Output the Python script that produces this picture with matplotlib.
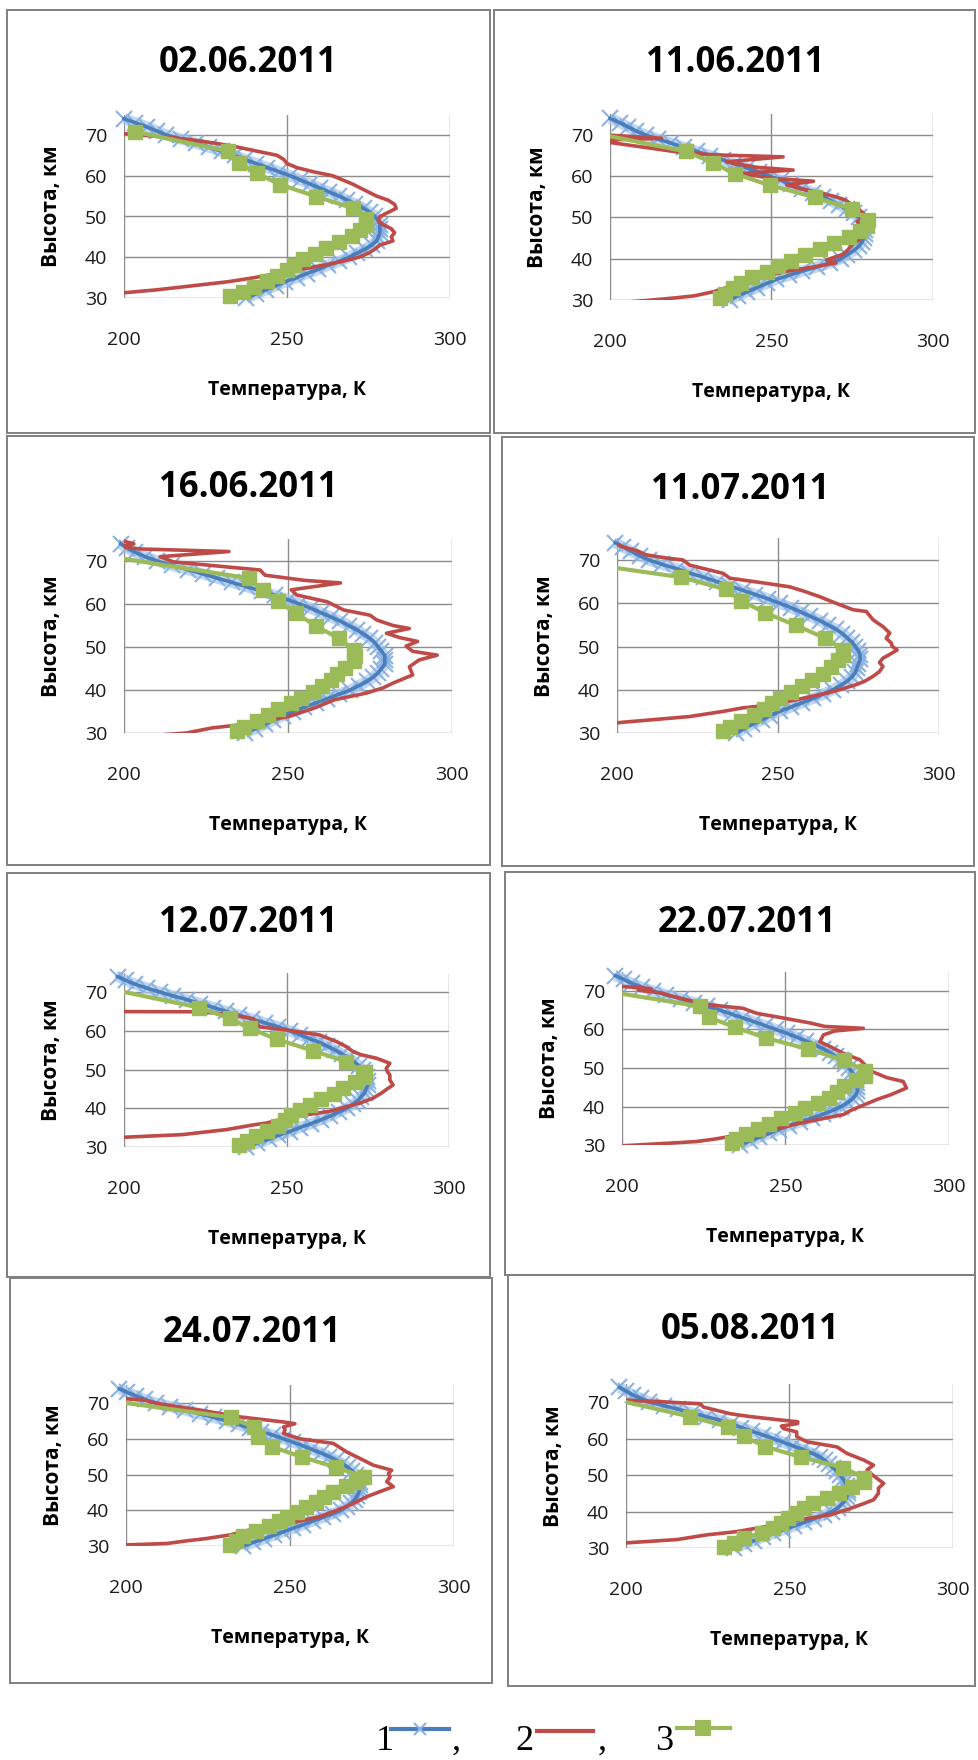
import numpy as np
import matplotlib
matplotlib.use("Agg")
import matplotlib.pyplot as plt
from matplotlib.patches import Rectangle
from matplotlib.lines import Line2D

plt.rcParams["font.family"] = ["Open Sans", "DejaVu Sans"]

W, H = 979, 1760

dates = ["02.06.2011", "11.06.2011", "16.06.2011", "11.07.2011",
         "12.07.2011", "22.07.2011", "24.07.2011", "05.08.2011"]

# series 1: model profile, every km
h_model = [30, 31, 32, 33, 34, 35, 36, 37, 38, 39, 40, 41, 42, 43, 44,
           45, 46, 47, 48, 49, 50, 51, 52, 53, 54, 55, 56, 57, 58, 59,
           60, 61, 62, 63, 64, 65, 66, 67, 68, 69, 70, 71, 72, 73, 74]
t_model_0206 = [237.5, 240.5, 243.5, 246.5, 249.5, 253, 256, 259.5, 262.5, 266,
                269, 271.5, 274, 276, 277.5, 278, 278.5, 278.5, 278.5, 278,
                277, 275.5, 273.5, 271, 268.5, 266, 263, 260, 257, 254,
                251, 247.5, 244, 240.5, 237, 234, 230, 226, 222, 217.5,
                213, 210, 207, 203.5, 200]
t_model_1106 = [237, 239.5, 242.5, 245.5, 248.5, 251.5, 255.5, 259.5, 264, 268,
                271.5, 273.5, 275.5, 277, 278, 278.5, 279, 279, 278.5, 278,
                277, 275.5, 273.5, 271, 268.5, 266, 263, 259.5, 256, 253,
                249.5, 246, 242.5, 238.5, 235, 231, 227, 223, 219, 215,
                211, 208, 205.5, 203, 200]
t_model_1606 = [237, 240, 243, 245.5, 248.5, 251.5, 255, 258.5, 262, 265.5,
                269, 271.5, 274, 276, 277.5, 278.5, 279.5, 279.5, 279.5, 278.5,
                277.5, 276.5, 275, 273, 271, 268.5, 266, 263, 260, 257,
                253.5, 250, 246, 242, 237.5, 233, 228.5, 224, 219.5, 214.5,
                210, 206.5, 203.5, 201, 199]
t_model_1107 = [237, 239.5, 242, 245, 247.5, 250.5, 254, 257.5, 261, 264,
                267, 269.5, 271.5, 273, 274, 274.5, 275, 275.5, 275.5, 275,
                274, 273, 271.5, 270, 268, 265.5, 263, 260, 257, 254,
                250.5, 247, 243, 239, 235, 231, 227, 222.5, 218.5, 214,
                210, 207, 204.5, 202, 199.5]
t_model_1207 = [237.5, 241, 244.5, 247.5, 251, 254, 257.5, 260.5, 263.5, 266,
                268.5, 270.5, 272, 273, 274, 274.5, 275, 275, 274.8, 274.3,
                273.5, 272.3, 270.8, 269, 267, 265, 262.5, 260, 257, 254,
                251, 247.5, 243.5, 239.5, 235.5, 231.5, 227.5, 223.5, 219.5, 215,
                211, 207, 203.5, 200.5, 198]
t_model_2207 = [236, 239, 242, 245, 248, 251, 254.5, 258, 261.5, 264.5,
                267, 269, 270.5, 271.5, 272, 272, 271.8, 271.5, 271, 270.3,
                269.5, 268.3, 267, 265.3, 263.5, 261.5, 259, 256.3, 253.5, 250.5,
                247, 243.8, 240.5, 237, 233.5, 230, 226, 222, 218, 213.5,
                209.5, 206, 203, 200.5, 198]
t_model_2407 = [235.8, 238.8, 242, 245, 248, 251, 254, 257, 260, 263,
                265.5, 267.3, 268.7, 269.8, 270.5, 271, 271.3, 271.4, 271.3, 270.8,
                270, 269, 267.7, 266, 264, 262, 259.5, 256.7, 254, 251,
                248, 244.8, 241.3, 237.8, 234.3, 230.7, 226.7, 222.5, 218, 213.5,
                209, 205.8, 203, 200.3, 198]
t_model_0508 = [233, 236, 239, 242, 245, 248, 251.3, 254.5, 257.5, 260.5,
                263, 264.8, 266, 267, 267.5, 267.8, 267.8, 267.5, 267, 266.3,
                265.5, 264.5, 263.3, 262, 260.8, 259.2, 256.8, 254, 251, 248,
                245, 241.8, 238.5, 235.3, 232, 228.8, 224.5, 220.3, 216, 211.5,
                207, 204.5, 202, 200, 198]

# series 2: lidar profiles
h_lidar_0206 = [31, 32, 33, 34, 35, 36, 37, 38, 39, 40, 41, 42, 43, 44, 45,
                46, 47, 48, 49, 50, 51, 52, 53, 54, 55, 56, 57, 58, 59, 60,
                61, 62, 63, 64, 65, 66, 67, 68, 69, 70, 71]
t_lidar_0206 = [196, 210, 221, 232, 240, 247, 254, 261, 267, 272, 275, 277, 278.5, 282.5, 282,
                283, 282, 279.5, 278, 278.5, 281, 283.5, 283, 281, 277.5, 275, 272.5, 270, 267, 264,
                258, 253, 250, 249, 247, 241, 235, 228, 219, 205, 190]
h_lidar_1106 = [29.5, 30, 30.5, 31, 32, 33, 34, 35, 36, 37, 38, 39, 39.7, 40.5, 41,
                42, 43, 44, 45, 46, 47, 48, 49, 50, 51, 52, 53, 54.2, 55, 56,
                57, 57.9, 58.8, 59.5, 60.7, 61.5, 62.2, 63.5, 64.7, 65.2, 65.7, 68.3, 68.8,
                69.2, 70, 70.5]
t_lidar_1106 = [205, 213, 220, 226, 232, 236, 240, 244, 249, 255, 263, 270, 267, 270, 272,
                273.5, 274.5, 276, 278, 279, 279, 278, 276.5, 279, 278.5, 277, 275, 273, 270, 265,
                259, 254.7, 263, 250, 241, 256.7, 245, 236, 253.6, 232, 222.6, 199, 199.5,
                216, 199, 190]
h_lidar_1606 = [29.5, 30, 31.2, 32.3, 33.9, 35.8, 37.7, 39.3, 40.5, 41.6, 43.5, 45.4, 47,
                48.1, 49, 50.2, 51.3, 52.2, 53.2, 54.3, 55, 56.3, 57.4, 58.6, 60.5, 62.1,
                63.3, 64.9, 65.5, 66.7, 67.9, 69.8, 71, 72.2, 72.8, 73.3, 74, 74.8]
t_lidar_1606 = [210, 219, 227, 240, 250.5, 258, 264, 274, 279, 282, 288, 287, 290,
                295.5, 288, 286, 289.5, 284, 280, 287, 282, 277, 275, 267, 262, 252.6,
                251, 266, 255, 243, 241.5, 215, 211, 232, 205, 199, 203, 199]
h_lidar_1107 = [32, 32.5, 33.8, 35, 35.8, 36.5, 37.7, 39.2, 40.2, 41.2, 42, 43.1, 44.2,
                45.4, 46.3, 47.3, 48.3, 49.2, 50, 50.8, 51.9, 53.1, 54.6, 55.4, 56.2, 58.1,
                58.5, 60, 61.5, 62.8, 63.8, 64.6, 65.8, 66.9, 68, 68.8, 70, 70.5, 71.2,
                72.2, 73, 73.6, 74]
t_lidar_1107 = [196, 202, 222.5, 233, 239, 248, 255.7, 265, 270, 274.3, 277, 279.5, 281.5,
                282.6, 281.5, 282.6, 285, 287, 285.5, 285.2, 283.6, 284.7, 282.6, 281, 279.5, 277.4,
                273.3, 268, 263, 258, 253.6, 246.4, 235, 233, 227, 222.6, 220.5, 215, 209,
                206, 202, 200, 198]
h_lidar_1207 = [32.4, 33.2, 34.5, 35.7, 36.2, 37.5, 38.3, 39.2, 40.4, 41.3, 42.6, 43.9, 45,
                46, 47.3, 48.6, 49.5, 50.3, 51.6, 52.9, 53.8, 54.6, 55.9, 57.2, 58.9, 60.2,
                61, 63.1, 64, 64.6, 64.9, 65]
t_lidar_1207 = [197, 218, 231.6, 239.8, 243.9, 250, 256, 263.3, 268.4, 272.5, 276.6, 279.2, 281,
                282.8, 281.8, 281.8, 281, 280.7, 281.8, 277.7, 273, 270.5, 268.4, 265.4, 260.2, 250,
                241.8, 239.8, 233.6, 227.5, 222.5, 170]
h_lidar_2207 = [29.8, 30, 30.5, 30.9, 31.5, 32.2, 33, 34, 35, 36.2, 37.9, 39, 40, 41.8,
                43, 44.8, 46.5, 47.5, 49.1, 50.4, 52.1, 53.8, 55.6, 56.8, 58.6, 59.6, 60.3,
                60.8, 61.7, 63, 64.2, 65.5, 66.4, 67.5, 68.5, 69.5, 70.2, 70.6, 71.2, 71.6]
t_lidar_2207 = [200, 204.5, 215, 222.7, 228, 233, 240, 246, 251, 257.5, 267.7, 270, 272.8, 277.9,
                282, 287, 286, 281, 276.4, 274.8, 272.8, 267.7, 263.6, 260.5, 261.6, 265, 273.8,
                262, 257.5, 249.2, 241.2, 237, 227, 221, 216, 212, 205, 209, 200, 195]
h_lidar_2407 = [30, 30.3, 30.7, 31.5, 32.1, 33.1, 34.5, 35.4, 36.8, 38.2, 39.6, 40.8, 41.9,
                43.8, 45.2, 46.6, 48, 49.3, 50.3, 51.2, 52.6, 54.5, 56.3, 58.7, 60, 61.5,
                62.5, 63.3, 64.2, 64.7, 66.1, 68, 69.5, 70.3, 70.7, 71.2, 71.5]
t_lidar_2407 = [196, 200, 212.4, 219, 224.6, 231.7, 237.8, 244.9, 252, 259, 263.2, 266.5, 269.3,
                273.4, 277.4, 281.5, 279.5, 280.5, 280, 281, 275.4, 271.3, 267.3, 263.2, 253, 248,
                248.5, 248, 251.5, 248, 234.8, 222.6, 212, 207.5, 206.3, 200, 196]
h_lidar_0508 = [31, 31.4, 32.3, 33.6, 34.5, 35.9, 37.3, 38.2, 39.1, 40.5, 41.8, 43.2, 45,
                46.4, 47.7, 49.1, 50.3, 51.4, 52.7, 54.1, 55.9, 57.7, 59.1, 60.5, 61.8, 62.7,
                63.4, 64.1, 64.6, 65, 66, 66.8, 68.6, 69.5, 70.2, 70.5, 70.8]
t_lidar_0508 = [195, 200, 215.5, 224.7, 233.9, 243, 250.2, 256.3, 262.4, 267.6, 271.6, 275.7, 277.2,
                277.2, 278.8, 276.7, 275, 273.7, 275.7, 272.7, 267.6, 264.5, 255.3, 252.2, 252.2, 248.2,
                247.5, 252.5, 252.5, 248, 238, 231.8, 223.7, 222.7, 208, 200, 195]

# series 3: satellite profiles on its own levels
h_sat = [30.4, 31.5, 32.8, 34.1, 35.5, 36.9, 38.2, 39.5, 40.9, 42.3, 43.7,
         45.2, 46.8, 48.0, 49.3, 52.0, 54.9, 57.8, 60.6, 63.2, 66.0, 70.8]
t_sat_0206 = [232.5, 236.5, 240, 244, 247, 250, 252, 255, 258.5, 262, 266,
              270, 272.5, 274.3, 274.3, 270.3, 259, 248, 240.7, 235.3, 232, 203.4]
t_sat_1106 = [234, 235.6, 238, 240.5, 244, 248.5, 252, 256, 260.5, 265, 269.5,
              274, 277.5, 279.5, 280, 275, 263.5, 249.5, 238.7, 232, 223.5, 193]
t_sat_1606 = [234.5, 236.5, 240.5, 244, 247, 251, 254, 257.5, 260.5, 263, 265,
              267.5, 270, 270.5, 270, 265.5, 258.5, 252.5, 247, 242.5, 238, 197.5]
t_sat_1107 = [233, 235, 238.5, 242.5, 245.5, 248, 250.5, 254, 257.5, 260.5, 264,
              266.5, 268.5, 270.2, 270.2, 264.5, 255.5, 246, 238.5, 233.8, 220, 175]
t_sat_1207 = [235.3, 237.7, 240.5, 244, 247.5, 249.5, 251.5, 254, 257.2, 260.5, 264.5,
              267.4, 271, 273.5, 274, 268.4, 258, 247, 238.7, 232.5, 223, 195.5]
t_sat_2207 = [233.5, 235, 238, 241.5, 245, 248.7, 252.8, 255.9, 260, 263.3, 265.7,
              268, 271.5, 274.2, 274.2, 268, 257, 244, 234.5, 226.5, 223.8, 189]
t_sat_2407 = [231.8, 233.5, 235.8, 239.5, 243.5, 246.5, 249, 252, 255, 258, 260.5,
              263.2, 267, 270, 272.7, 264, 253.6, 244.4, 240.3, 239, 232, 193.5]
t_sat_0508 = [230, 233, 236, 241.5, 245, 247.3, 249.5, 252, 254.5, 257.3, 261.5,
              265, 269, 272.7, 272.7, 266.5, 253.5, 242.5, 236, 231.3, 219.5, 196]

x_ticks = [200, 250, 300]
y_ticks = [30, 40, 50, 60, 70]

panels = [
    (t_model_0206, h_lidar_0206, t_lidar_0206, t_sat_0206),
    (t_model_1106, h_lidar_1106, t_lidar_1106, t_sat_1106),
    (t_model_1606, h_lidar_1606, t_lidar_1606, t_sat_1606),
    (t_model_1107, h_lidar_1107, t_lidar_1107, t_sat_1107),
    (t_model_1207, h_lidar_1207, t_lidar_1207, t_sat_1207),
    (t_model_2207, h_lidar_2207, t_lidar_2207, t_sat_2207),
    (t_model_2407, h_lidar_2407, t_lidar_2407, t_sat_2407),
    (t_model_0508, h_lidar_0508, t_lidar_0508, t_sat_0508),
]

# layout in pixels: frame boxes, plot areas (x of 200, x of 300, y of 30 km, y of 70 km), titles
boxes = [(7, 10, 490, 433), (494, 10, 975, 433), (7, 436, 490, 865), (502, 437, 974, 866),
         (7, 873, 490, 1277), (505, 872, 975, 1275), (10, 1278, 492, 1683), (508, 1275, 975, 1686)]
areas = [(124, 450, 298, 135), (610, 933, 300, 135), (124, 452, 733, 561), (617, 939, 733, 560),
         (124, 449, 1147, 992), (622, 949, 1145, 991), (126, 454, 1546, 1403), (626, 953, 1548, 1402)]
titles = [(248, 63), (735, 63), (248, 488), (740, 490),
          (248, 923), (747, 923), (252, 1333), (750, 1330)]

c_blue = "#4A7EBB"
c_blue_mark = "#8AB2E2"
c_blue_band = "#A9C6EC"
c_red = "#BE4B48"
c_green = "#9BBB59"
c_grid = "#8C8C8C"

fig = plt.figure(figsize=(W / 100, H / 100), dpi=100)
fig.patch.set_facecolor("white")


def fx(px):
    return px / W


def fy(py):
    return 1 - py / H


for i, (t_mod, h_lid, t_lid, t_sat) in enumerate(panels):
    l, t, r, b = boxes[i]
    fig.add_artist(Rectangle((fx(l), fy(b)), (r - l) / W, (b - t) / H,
                             transform=fig.transFigure, fill=False,
                             ec="#7F7F7F", lw=1.4))
    x0, x1, y30, y70 = areas[i]
    y75 = y70 - (y30 - y70) / 8
    ax = fig.add_axes([fx(x0), fy(y30), (x1 - x0) / W, (y30 - y75) / H])
    ax.set_xlim(200, 300)
    ax.set_ylim(30, 75)
    ax.set_xticks(x_ticks)
    ax.set_yticks(y_ticks)
    ax.grid(True, color=c_grid, lw=1.0)
    ax.set_axisbelow(True)
    for s in ax.spines.values():
        s.set_visible(False)
    ax.tick_params(length=0, labelsize=14, colors="#1a1a1a")
    ax.tick_params(axis="x", pad=24)
    ax.tick_params(axis="y", pad=12)
    ax.patch.set_alpha(0)

    # model: dense light crosses around a blue line
    ax.plot(t_mod, h_model, color=c_blue_band, lw=8, alpha=0.7,
            solid_capstyle="butt", clip_on=False, zorder=1.9)
    ax.plot(t_mod, h_model, ls="none", marker="x", ms=11, mew=1.5,
            color=c_blue_mark, clip_on=False, zorder=2)
    ax.plot(t_mod, h_model, color=c_blue, lw=2.6, clip_on=False, zorder=2.2)
    # lidar
    ax.plot(t_lid, h_lid, color=c_red, lw=2.6, zorder=3)
    # satellite
    ts = np.array(t_sat)
    hs = np.array(h_sat)
    ax.plot(ts, hs, color=c_green, lw=3, zorder=4)
    inside = ts >= 200
    ax.plot(ts[inside], hs[inside], ls="none", marker="s", ms=9.5,
            color=c_green, clip_on=False, zorder=4.2)

    tx, ty = titles[i]
    fig.text(fx(tx), fy(ty), dates[i], ha="center", va="center",
             fontsize=25, fontweight="bold", color="black")
    fig.text(fx((x0 + x1) / 2), fy(y30 + 92), "Температура, К", ha="center",
             va="center", fontsize=14, fontweight="bold", color="black")
    fig.text(fx(x0 - 72), fy((y30 + y75) / 2), "Высота, км", ha="center",
             va="center", rotation=90, fontsize=15, fontweight="bold", color="black")

# bottom legend: "1 —x— ,  2 —— ,  3 —■—"
serif = ["Liberation Serif", "DejaVu Serif"]
base = 1750
items = [(376, "1", 391, 449, 1729, c_blue, "x", c_blue_mark),
         (515, "2", 537, 593, 1731, c_red, None, None),
         (655, "3", 677, 730, 1728, c_green, "s", c_green)]
for xn, lab, xa, xb, yl, col, mk, mcol in items:
    fig.text(fx(xn), fy(base), lab, ha="left", va="baseline",
             fontsize=26, family=serif)
    fig.add_artist(Line2D([fx(xa), fx(xb)], [fy(yl), fy(yl)],
                          transform=fig.transFigure, color=col, lw=3))
    if mk:
        fig.add_artist(Line2D([fx((xa + xb) / 2)], [fy(yl)], transform=fig.transFigure,
                              ls="none", marker=mk, ms=9 if mk == "x" else 10,
                              mew=1.5, color=mcol))
for xc in [452, 598]:
    fig.text(fx(xc), fy(base), ",", ha="left", va="baseline", fontsize=26, family=serif)

fig.savefig("out.png", dpi=100, facecolor="white")
